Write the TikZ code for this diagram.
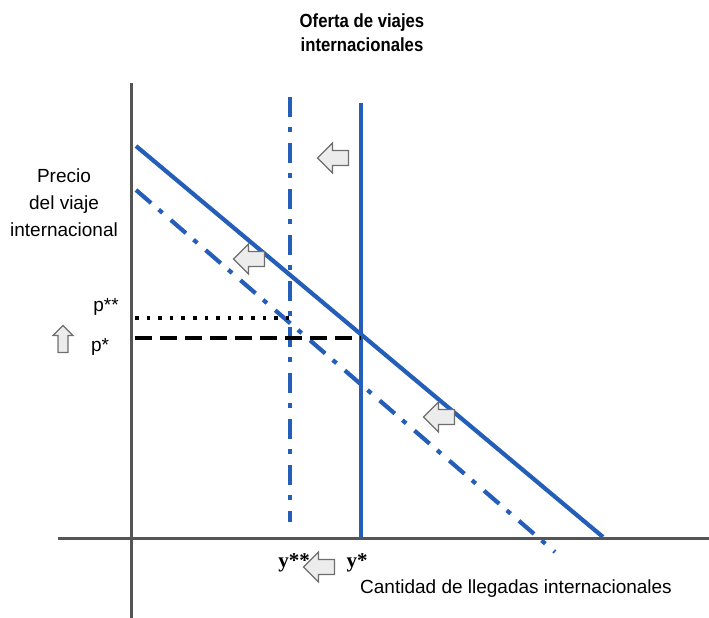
\documentclass[tikz,border=0pt]{standalone}
\usepackage{fontspec}
\setmainfont{Liberation Serif}
\setsansfont{Liberation Sans}
\definecolor{lineblue}{RGB}{36,94,184}
\definecolor{axisgray}{RGB}{85,85,85}
\definecolor{arrowfill}{RGB}{236,236,236}
\definecolor{arrowdraw}{RGB}{110,110,110}
\tikzset{
  axisline/.style={draw=axisgray, line width=3pt},
  solidline/.style={draw=lineblue, line width=4.2pt},
  dashdotline/.style={draw=lineblue, line width=4.2pt, dash pattern=on 20pt off 10pt on 5pt off 11pt},
  blockarrow/.style={fill=arrowfill, draw=arrowdraw, line width=1.1pt, line join=miter},
  lbl/.style={font=\sffamily\fontsize{19}{27}\selectfont, inner sep=0pt, align=center},
  ttl/.style={font=\sffamily\bfseries\fontsize{19}{24}\selectfont, inner sep=0pt, align=center},
  ylbl/.style={font=\rmfamily\bfseries\fontsize{21}{24}\selectfont, inner sep=0pt},
  leftarrow/.pic={\path[blockarrow] (-15.5,0) -- (-0.5,-15) -- (-0.5,-7.5) -- (15.5,-7.5) -- (15.5,7.5) -- (-0.5,7.5) -- (-0.5,15) -- cycle;},
  uparrow/.pic={\path[blockarrow] (0,-13.5) -- (10,-3.5) -- (5,-3.5) -- (5,13.5) -- (-5,13.5) -- (-5,-3.5) -- (-10,-3.5) -- cycle;}
}
\begin{document}
\begin{tikzpicture}[x=1pt,y=-1pt]
\useasboundingbox (0,0) rectangle (709,618);
% axes
\coordinate (vtop) at (131,83);
\coordinate (vbot) at (131,618);
\coordinate (hleft) at (58,538);
\coordinate (hright) at (709,538);
\draw[axisline] (vtop) -- (vbot);
\draw[axisline] (hleft) -- (hright);
% demand curves
\coordinate (d1s) at (136,146);
\coordinate (d1e) at (603,537);
\coordinate (d2s) at (136,190);
\coordinate (d2e) at (555,552);
\draw[solidline] (d1s) -- (d1e);
\draw[dashdotline] (d2s) -- (d2e);
% supply lines
\coordinate (s1t) at (361,103);
\coordinate (s1b) at (361,538);
\coordinate (s2t) at (290,97);
\coordinate (s2b) at (290,522);
\draw[solidline] (s1t) -- (s1b);
\draw[dashdotline] (s2t) -- (s2b);
% price lines
\coordinate (pss) at (135,318);
\coordinate (pse) at (290,318);
\coordinate (ps) at (135,338);
\coordinate (pe) at (361,338);
\draw[black, line width=3.6pt, dash pattern=on 3.6pt off 8pt] (pss) -- (pse);
\draw[black, line width=3.6pt, dash pattern=on 17pt off 8pt] (ps) -- (pe);
% block arrows
\pic at (333,158) {leftarrow};
\pic at (249,259) {leftarrow};
\pic at (439,417) {leftarrow};
\pic at (319,567) {leftarrow};
\pic at (63,339) {uparrow};
% labels
\node[ttl] (title) at (362,33) {\scalebox{0.88}[1]{Oferta de viajes}\\\scalebox{0.88}[1]{internacionales}};
\node[lbl] (ylab) at (64,203) {Precio\\del viaje\\internacional};
\node[lbl, anchor=base] (pss) at (106,311) {p**};
\node[lbl, anchor=base] (ps) at (100,351) {p*};
\node[ylbl, anchor=base] (yss) at (294,567) {y**};
\node[ylbl, anchor=base] (ys) at (357,567) {y*};
\node[lbl, anchor=base] (xlab) at (516,593) {Cantidad de llegadas internacionales};
\end{tikzpicture}
\end{document}
